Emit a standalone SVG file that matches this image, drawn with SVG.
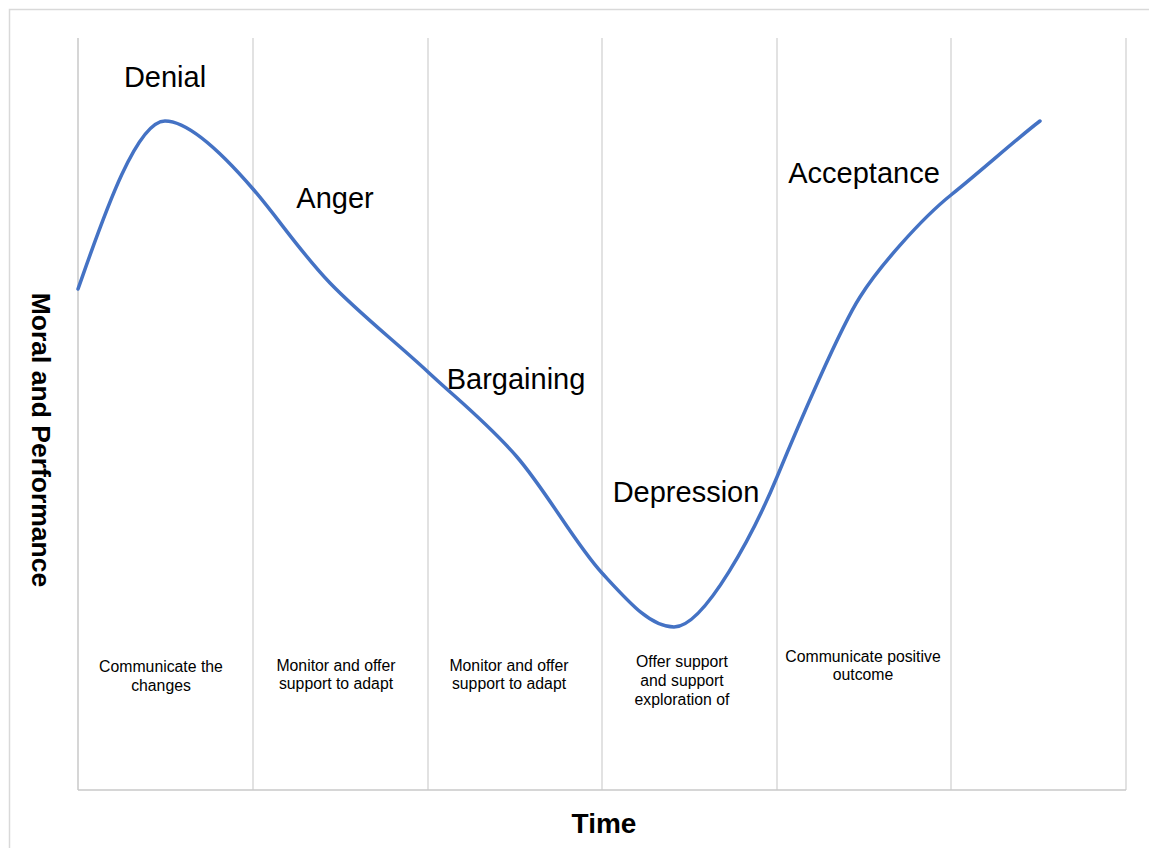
<svg xmlns="http://www.w3.org/2000/svg" width="1149" height="848" viewBox="0 0 1149 848">
  <style>
    .frame { fill: none; stroke: #d9d9d9; stroke-width: 1.5; }
    .grid { stroke: #d9d9d9; stroke-width: 1.5; }
    .axis { stroke: #c8c8c8; stroke-width: 1.5; }
    .curve { fill: none; stroke: #4472c4; stroke-width: 3.5; stroke-linecap: round; stroke-linejoin: round; }
    .stage { font-family: "Liberation Sans", Arial, sans-serif; font-size: 29px; fill: #000; text-anchor: middle; }
    .action { font-family: "Liberation Sans", Arial, sans-serif; font-size: 15.8px; fill: #000; text-anchor: middle; }
    .title { font-family: "Liberation Sans", Arial, sans-serif; font-weight: bold; fill: #000; text-anchor: middle; }
  </style>
  <rect width="1149" height="848" fill="#ffffff"/>
  <!-- outer chart frame -->
  <path class="frame" d="M9.5 848 V9.5 H1149"/>

  <!-- vertical column dividers and axes -->
  <g id="grid">
    <line class="grid" x1="253" y1="38" x2="253" y2="790"/>
    <line class="grid" x1="428" y1="38" x2="428" y2="790"/>
    <line class="grid" x1="602" y1="38" x2="602" y2="790"/>
    <line class="grid" x1="777" y1="38" x2="777" y2="790"/>
    <line class="grid" x1="951" y1="38" x2="951" y2="790"/>
    <line class="grid" x1="1126" y1="38" x2="1126" y2="790"/>
    <line class="axis" x1="78" y1="38" x2="78" y2="790"/>
    <line class="axis" x1="78" y1="790" x2="1126" y2="790"/>
  </g>

  <!-- change curve -->
  <g id="curve">
    <path class="curve" d="M78 289
      C100 227 135 121 165 121
      C190 121 228 160 253 189
      C278 218 300.8 252.7 330 283
      C359.2 313.3 396.8 343 428 372
      C459.2 401 488 423.5 517 457
      C546 490.5 575.8 544.7 602 573
      C628.2 601.3 650 627 674 627
      C705 627 755 530 777 477
      C797 428.6 840 328 860 297
      C878 268 921 219 951 195
      C981 171 1020 136 1040 121"/>
  </g>

  <!-- stage labels -->
  <g id="stages">
    <text id="denial" class="stage" x="165" y="87">Denial</text>
    <text id="anger" class="stage" x="335" y="208">Anger</text>
    <text id="bargaining" class="stage" x="516" y="389">Bargaining</text>
    <text id="depression" class="stage" x="686" y="502">Depression</text>
    <text id="acceptance" class="stage" x="864" y="183">Acceptance</text>
  </g>

  <!-- suggested actions per column -->
  <g id="actions">
    <text id="action-1" class="action" x="161" y="672">Communicate the<tspan x="161" y="691">changes</tspan></text>
    <text id="action-2" class="action" x="336" y="671">Monitor and offer<tspan x="336" y="689">support to adapt</tspan></text>
    <text id="action-3" class="action" x="509" y="671">Monitor and offer<tspan x="509" y="689">support to adapt</tspan></text>
    <text id="action-4" class="action" x="682" y="667">Offer support<tspan x="682" y="686">and support</tspan><tspan x="682" y="705">exploration of</tspan></text>
    <text id="action-5" class="action" x="863" y="662">Communicate positive<tspan x="863" y="680">outcome</tspan></text>
  </g>

  <!-- axis titles -->
  <g id="axis-titles">
    <text id="x-title" class="title" x="604" y="833" font-size="28">Time</text>
    <text id="y-title" class="title" font-size="26.5" transform="translate(32 440) rotate(90)">Moral and Performance</text>
  </g>
</svg>
